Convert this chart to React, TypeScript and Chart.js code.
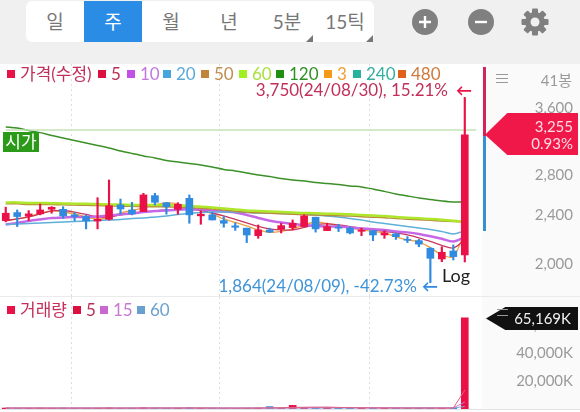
import React, { useEffect, useRef } from "react";
import { Chart, registerables } from "chart.js";

Chart.register(...registerables);

const FONT = "Lato, 'Noto Sans CJK KR', sans-serif";
const RED = "#ea1148";
const BLUE = "#2f8ae0";

const opens = [2355,2428,2395,2416,2458,2458,2407,2392,2352,2367,2499,2452,2437,2588,2520,2458,2562,2398,2407,2355,2309,2289,2225,2274,2280,2294,2303,2386,2268,2297,2289,2262,2268,2231,2240,2194,2184,2122,2038,2100,2069];
const closes = [2422,2392,2416,2452,2477,2398,2392,2352,2367,2492,2461,2416,2595,2524,2483,2505,2407,2413,2361,2332,2297,2231,2274,2255,2311,2332,2398,2283,2303,2289,2248,2272,2231,2248,2217,2187,2155,2043,2090,2056,3255];
const highs = [2478,2452,2446,2508,2483,2483,2428,2407,2568,2746,2555,2524,2611,2611,2520,2520,2595,2443,2431,2392,2335,2289,2317,2289,2332,2361,2407,2386,2332,2323,2303,2289,2268,2268,2248,2217,2194,2127,2134,2149,3750];
const lows = [2344,2303,2355,2407,2422,2376,2355,2283,2283,2360,2413,2407,2437,2499,2413,2413,2332,2323,2361,2297,2270,2168,2203,2251,2248,2274,2303,2255,2268,2260,2240,2225,2184,2203,2194,2168,2134,1864,2017,2030,2015];

const ma3 = [2352,2370,2392,2420,2443,2433,2415,2388,2370,2379,2424,2447,2471,2499,2518,2509,2471,2452,2415,2370,2339,2308,2274,2253,2261,2283,2317,2343,2330,2308,2291,2274,2261,2248,2215,2190,2174,2127,2069,2056,2258];
const ma5 = [2357,2370,2388,2415,2443,2447,2433,2411,2388,2388,2406,2424,2433,2443,2452,2457,2457,2447,2424,2397,2366,2335,2304,2283,2274,2274,2296,2321,2326,2317,2303,2287,2274,2261,2248,2231,2207,2177,2146,2124,2190];
const ma10 = [2321,2335,2352,2366,2379,2383,2388,2388,2392,2401,2411,2420,2433,2443,2447,2454,2461,2457,2447,2438,2429,2406,2379,2355,2339,2326,2317,2308,2304,2303,2296,2287,2280,2274,2261,2253,2240,2220,2199,2177,2215];
const ma20 = [2321,2326,2330,2335,2339,2343,2348,2352,2357,2361,2366,2375,2379,2388,2397,2411,2420,2429,2433,2433,2433,2429,2424,2422,2420,2417,2415,2406,2397,2388,2375,2361,2343,2330,2317,2304,2291,2278,2261,2240,2266];
const ma50 = [2509,2509,2504,2504,2502,2500,2498,2495,2493,2490,2488,2486,2484,2482,2480,2478,2474,2468,2460,2451,2441,2431,2426,2421,2417,2412,2408,2405,2402,2399,2396,2391,2386,2382,2374,2368,2363,2358,2352,2348,2343];
const ma60 = [2523,2523,2518,2518,2516,2513,2511,2509,2507,2504,2502,2499,2499,2499,2499,2494,2490,2483,2475,2466,2457,2447,2443,2438,2433,2429,2424,2422,2418,2415,2412,2406,2401,2397,2388,2382,2376,2370,2363,2355,2346];
const ma120 = [3354,3341,3310,3283,3248,3217,3187,3158,3128,3099,3064,3035,3007,2984,2955,2939,2922,2906,2884,2857,2841,2820,2798,2782,2761,2746,2736,2720,2710,2700,2685,2675,2654,2630,2605,2585,2566,2551,2537,2527,2527];
const openLine = Array.from({ length: 42 }, () => 3316);

const volumes = [700,650,600,650,600,700,600,600,650,800,600,600,900,700,650,600,900,600,600,550,500,600,700,1700,600,2600,1000,800,900,700,700,600,550,600,600,550,650,800,650,700,65169];
const volMa5 = [700,690,670,660,640,640,640,630,630,660,660,650,690,710,710,690,730,730,690,650,620,610,620,840,860,1160,1280,1340,1380,1160,940,840,750,700,640,600,590,620,630,650,13500];
const volMa15 = [650,650,650,650,650,650,650,650,650,660,660,660,670,680,680,690,690,690,690,680,680,670,670,730,730,860,890,900,920,930,940,940,920,910,900,890,880,820,800,790,5000];
const volMa60 = [650,650,650,650,650,650,650,650,650,650,650,650,650,660,660,660,660,660,660,660,660,660,660,670,670,700,700,710,710,720,720,720,720,720,720,720,720,720,720,720,1800];

const priceTicks = [2000, 2400, 2800, 3200, 3600];
const volumeTicks = [20000, 40000, 60000];
const gridMarks = [5.69, 18.67, 31.74];
const categories = Array.from({ length: 42 }, (_, i) => (i < 41 ? String(i) : ""));

const tabs = ["일", "주", "월", "년", "5분", "15틱"];
const tabCenters = [55, 113, 171, 229, 287, 345];
const priceLegend: [string, string, string][] = [
  ["가격(수정)", "#ea1148", "#c0305a"],
  ["5", "#dc1040", "#b83058"],
  ["10", "#c050e8", "#c078e0"],
  ["20", "#45a5dd", "#5aaad8"],
  ["50", "#c0853a", "#c08c50"],
  ["60", "#a0f020", "#a8e040"],
  ["120", "#1f8f12", "#2f9025"],
  ["3", "#f59a18", "#eea030"],
  ["240", "#25b39e", "#35b0a0"],
  ["480", "#e0601a", "#cf7a3c"],
];
const priceLegendLefts = [7, 98, 127, 163, 201, 239, 276, 324, 353, 398];
const volumeLegend: [string, string, string][] = [
  ["거래량", "#ea1148", "#c0305a"],
  ["5", "#dc1040", "#b83058"],
  ["15", "#c868d0", "#c878d0"],
  ["60", "#6aa0d0", "#6aa0d0"],
];
const volumeLegendLefts = [7, 73, 100, 137];

const lineDs = (label: string, data: number[], color: string, width: number) => ({
  type: "line" as const,
  label,
  data,
  borderColor: color,
  borderWidth: width,
  pointRadius: 0,
  tension: 0.3,
  order: 5,
});

const gridAxis = {
  type: "linear" as const,
  position: "bottom" as const,
  min: -0.5,
  max: 41.5,
  afterBuildTicks: (a: any) => { a.ticks = gridMarks.map((value) => ({ value })); },
  afterFit: (a: any) => { a.height = 0; },
  ticks: { display: false },
  border: { display: false, dash: [2, 3] },
  grid: { color: "#dddddd", drawTicks: false, lineWidth: 1 },
};

const fitValueAxis = (a: any) => {
  a.width = 91;
  a.paddingTop = 0;
  a.paddingBottom = 0;
  if (a._margins) {
    a._margins.top = 0;
    a._margins.bottom = 0;
  }
};

const common = {
  responsive: false,
  animation: false as const,
  events: [] as any[],
  layout: { padding: { right: 7 }, autoPadding: false },
  plugins: { legend: { display: false }, tooltip: { enabled: false } },
};

const Legend = ({ items, lefts, top }: { items: [string, string, string][]; lefts: number[]; top: number }) => (
  <>
    {items.map(([t, sq, tc], i) => (
      <span key={t + sq} style={{ position: "absolute", left: lefts[i], top, display: "inline-flex", alignItems: "center", gap: 5, color: tc, fontSize: 17, lineHeight: "20px", whiteSpace: "nowrap" }}>
        <i style={{ display: "inline-block", width: 8, height: 8, background: sq }} />
        {t}
      </span>
    ))}
  </>
);

const abs = (s: React.CSSProperties): React.CSSProperties => ({ position: "absolute", ...s });

export default function App() {
  const priceRef = useRef<HTMLCanvasElement>(null);
  const volRef = useRef<HTMLCanvasElement>(null);

  useEffect(() => {
    const candleColor = closes.map((c, i) => (c >= opens[i] ? RED : BLUE));
    const price = new Chart(priceRef.current!, {
      data: {
        labels: categories,
        datasets: [
          { type: "bar", label: "body", data: opens.map((o, i) => [o, closes[i]]), backgroundColor: candleColor, barThickness: 7, grouped: false, order: 1 },
          { type: "bar", label: "wick", data: lows.map((l, i) => [l, highs[i]]), backgroundColor: candleColor, barThickness: 1.5, grouped: false, order: 2 },
          lineDs("시가", openLine, "#c4e2b6", 1.5),
          lineDs("60", ma60, "#aee62a", 2.5),
          lineDs("50", ma50, "#b98a3c", 1.5),
          lineDs("120", ma120, "#3c9028", 1.5),
          lineDs("20", ma20, "#5fb0d8", 1.5),
          lineDs("10", ma10, "#c668e6", 2.5),
          lineDs("5", ma5, "#c8385c", 1.3),
          lineDs("3", ma3, "#f0a040", 1.3),
        ] as any,
      },
      options: {
        ...common,
        scales: {
          x: { display: false, offset: true },
          x2: gridAxis,
          y: {
            type: "logarithmic",
            position: "right",
            min: 1772,
            max: 4254,
            afterBuildTicks: (a: any) => { a.ticks = priceTicks.map((value) => ({ value })); },
            afterFit: fitValueAxis,
            border: { display: false },
            grid: { display: false },
            ticks: {
              autoSkip: false,
              crossAlign: "far",
              padding: 0,
              color: "#9a9a9a",
              font: { family: FONT, size: 15 },
              callback: (v: any) => Number(v).toLocaleString("en-US"),
            },
          },
        },
      } as any,
    });

    const vol = new Chart(volRef.current!, {
      data: {
        labels: categories,
        datasets: [
          { type: "bar", label: "거래량", data: volumes, backgroundColor: candleColor, barThickness: 7, grouped: false, order: 2 },
          { ...lineDs("5", volMa5, "#e06080", 1), tension: 0, order: 1 },
          { ...lineDs("15", volMa15, "#c878d0", 1), tension: 0, order: 1 },
          { ...lineDs("60", volMa60, "#80a8d0", 1), tension: 0, order: 1 },
        ] as any,
      },
      options: {
        ...common,
        scales: {
          x: { display: false, offset: true },
          x2: gridAxis,
          y: {
            position: "right",
            min: 0,
            max: 80000,
            afterBuildTicks: (a: any) => { a.ticks = volumeTicks.map((value) => ({ value })); },
            afterFit: fitValueAxis,
            border: { display: false },
            grid: { display: false },
            ticks: {
              autoSkip: false,
              crossAlign: "far",
              padding: 0,
              color: "#9a9a9a",
              font: { family: FONT, size: 15 },
              callback: (v: any) => Number(v).toLocaleString("en-US") + "K",
            },
          },
        },
      } as any,
    });
    return () => { price.destroy(); vol.destroy(); };
  }, []);

  return (
    <div style={{ position: "relative", width: 580, height: 412, overflow: "hidden", background: "#fff", fontFamily: FONT }}>
      <style>{"body{margin:0}"}</style>
      <div style={abs({ left: 0, top: 0, width: 580, height: 64, background: "#f0f0f0" })} />
      <div style={abs({ left: 26, top: 1, width: 348, height: 41, background: "#fff", borderRadius: 6 })} />
      <div style={abs({ left: 84, top: 1, width: 58, height: 41, background: "#2b8ce6" })} />
      {tabs.map((t, i) => (
        <div key={t} style={abs({ left: tabCenters[i] - 29, top: 1, width: 58, height: 41, lineHeight: "41px", textAlign: "center", fontSize: 19, color: i === 1 ? "#fff" : "#777" })}>{t}</div>
      ))}
      {[306, 366].map((x) => (
        <div key={x} style={abs({ left: x, top: 35, width: 7, height: 7, background: "#777", clipPath: "polygon(100% 0,100% 100%,0 100%)" })} />
      ))}
      <svg style={abs({ left: 410, top: 7 })} width={140} height={30} viewBox="0 0 140 30">
        <circle cx={15} cy={15} r={13} fill="#808080" />
        <path d="M15 9v12M9 15h12" stroke="#fff" strokeWidth={2.4} />
        <circle cx={71} cy={15} r={13} fill="#808080" />
        <path d="M65 15h12" stroke="#fff" strokeWidth={2.4} />
        <g transform="translate(125 15)" fill="#808080">
          {[0, 45, 90, 135].map((a) => (
            <rect key={a} x={-3} y={-13.5} width={6} height={27} rx={1} transform={`rotate(${a})`} />
          ))}
          <circle r={10} />
          <circle r={4.5} fill="#f0f0f0" />
        </g>
      </svg>

      <div style={abs({ left: 482, top: 64, width: 98, height: 345, background: "#fafafa" })} />
      <div style={abs({ left: 0, top: 296, width: 580, height: 1, background: "#eaeaea" })} />
      <div style={abs({ left: 0, top: 409, width: 580, height: 1, background: "#e4e4e4" })} />

      <canvas ref={priceRef} width={580} height={232} style={abs({ left: 0, top: 64, width: 580, height: 232 })} />
      <canvas ref={volRef} width={580} height={112} style={abs({ left: 0, top: 297, width: 580, height: 112 })} />

      <Legend items={priceLegend} lefts={priceLegendLefts} top={64} />
      <Legend items={volumeLegend} lefts={volumeLegendLefts} top={300} />

      <div style={abs({ left: 200, width: 248, top: 81, textAlign: "right", fontSize: 17, lineHeight: "18px", color: "#c0305a", whiteSpace: "nowrap" })}>3,750(24/08/30), 15.21%</div>
      <div style={abs({ left: 456, top: 81, fontSize: 16, lineHeight: "18px", color: RED, fontWeight: 700 })}>←</div>
      <div style={abs({ left: 170, width: 247, top: 277, textAlign: "right", fontSize: 17, lineHeight: "18px", color: "#3f94d8", whiteSpace: "nowrap" })}>1,864(24/08/09), -42.73%</div>
      <div style={abs({ left: 422, top: 277, fontSize: 16, lineHeight: "18px", color: BLUE, fontWeight: 700 })}>←</div>
      <div style={abs({ left: 442, top: 265, fontSize: 18, lineHeight: "20px", color: "#222" })}>Log</div>
      <div style={abs({ left: 3, top: 132, width: 36, height: 20, lineHeight: "20px", textAlign: "center", background: "#2a9a18", color: "#fff", fontSize: 17 })}>시가</div>

      <div style={abs({ left: 483, top: 67, width: 3, height: 69, background: "#d2245a" })} />
      <div style={abs({ left: 483, top: 136, width: 3, height: 95, background: "#3a8fd0" })} />
      <div style={abs({ left: 496, top: 74, width: 12, height: 9, borderTop: "1px solid #999", borderBottom: "1px solid #999", boxSizing: "border-box" })} />
      <div style={abs({ left: 496, top: 78, width: 12, height: 1, background: "#999" })} />
      <div style={abs({ right: 8, top: 70, fontSize: 15, lineHeight: "20px", color: "#9a9a9a" })}>41봉</div>

      <div style={abs({ left: 485, top: 113, width: 93, height: 42, background: "#ef1848", clipPath: "polygon(0 52%,24% 0,100% 0,100% 100%,24% 100%)" })} />
      <div style={abs({ right: 7, top: 117, textAlign: "right", fontSize: 15, lineHeight: "18px", color: "#ffdbe4" })}>3,255</div>
      <div style={abs({ right: 7, top: 134, textAlign: "right", fontSize: 15, lineHeight: "18px", color: "#ffdbe4" })}>0.93%</div>

      <div style={abs({ left: 486, top: 307, width: 92, height: 23, background: "#111", clipPath: "polygon(0 50%,21% 0,100% 0,100% 100%,21% 100%)" })} />
      <div style={abs({ left: 497, top: 309, width: 11, height: 7, borderTop: "1px solid #999", borderBottom: "1px solid #999", boxSizing: "border-box" })} />
      <div style={abs({ right: 9, top: 309, fontSize: 15, lineHeight: "18px", color: "#f2f2f2" })}>65,169K</div>
    </div>
  );
}
